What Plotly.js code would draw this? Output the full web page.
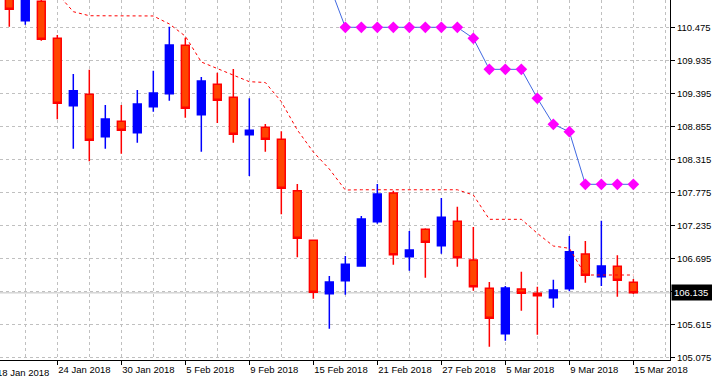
<!DOCTYPE html>
<html>
<head>
<meta charset="utf-8">
<script src="https://cdn.plot.ly/plotly-3.0.1.min.js"></script>
<style>
html,body{margin:0;padding:0;background:#fff;}
#chart{width:712px;height:379px;}
</style>
</head>
<body>
<div id="chart"></div>
<script>
// Trading days shown (18 Jan 2018 is slot 0, just off the left edge)
const dates = ['19 Jan','22 Jan','23 Jan','24 Jan','25 Jan','26 Jan','29 Jan','30 Jan','31 Jan','1 Feb',
  '2 Feb','5 Feb','6 Feb','7 Feb','8 Feb','9 Feb','12 Feb','13 Feb','14 Feb','15 Feb',
  '16 Feb','19 Feb','20 Feb','21 Feb','22 Feb','23 Feb','26 Feb','27 Feb','28 Feb','1 Mar',
  '2 Mar','5 Mar','6 Mar','7 Mar','8 Mar','9 Mar','12 Mar','13 Mar','14 Mar','15 Mar'];

const openP = [111.000,110.583,110.900,110.295,109.194,109.380,108.687,108.939,108.752,109.177,
  109.390,110.181,109.047,109.543,109.331,108.720,108.841,108.645,107.804,106.994,
  106.121,106.334,106.574,107.298,107.767,106.726,107.174,106.906,107.304,106.672,
  106.209,105.467,106.198,106.128,106.056,106.203,106.770,106.399,106.569,106.307];
const highP = [111.100,111.050,110.950,110.349,109.712,109.782,109.205,109.205,109.450,109.766,
  110.485,110.305,109.663,109.733,109.793,109.315,108.894,108.775,107.914,107.000,
  106.411,106.737,107.391,107.914,107.804,107.146,107.190,107.685,107.543,107.211,
  106.312,106.247,106.481,106.236,106.350,107.064,106.983,107.314,106.749,106.361];
const lowP = [110.485,110.517,110.256,108.971,108.491,108.285,108.491,108.409,108.589,109.096,
  109.275,108.997,108.442,108.911,108.589,108.045,108.442,107.419,106.716,106.040,
  105.549,106.105,106.562,107.265,106.595,106.497,106.383,106.775,106.562,106.170,
  105.255,105.353,105.843,105.451,105.892,106.160,106.301,106.247,106.072,106.116];
const closeP = [110.769,110.950,110.279,109.233,109.439,108.628,108.976,108.792,109.221,109.401,
  110.186,109.151,109.597,109.282,108.726,108.792,108.645,107.844,107.027,106.144,
  106.312,106.602,107.342,107.751,106.759,106.835,106.961,107.370,106.709,106.236,
  105.719,106.214,106.128,106.089,106.182,106.808,106.422,106.574,106.340,106.137];

// Red dotted trailing line
const redLine = [null,null,null,111.027,110.730,110.664,110.660,110.660,110.660,110.660,
  110.530,110.330,109.908,109.802,109.695,109.586,109.573,109.259,108.797,108.437,
  108.159,107.816,107.820,107.820,107.820,107.820,107.820,107.820,107.820,107.734,
  107.337,107.337,107.337,107.108,106.901,106.863,106.427,106.427,106.427,106.427];

// Blue line with magenta diamonds
const blueLine = [null,null,null,null,null,null,null,null,null,null,
  null,null,null,null,null,null,null,null,null,null,
  111.170,110.475,110.475,110.475,110.475,110.475,110.475,110.475,110.475,110.295,
  109.788,109.788,109.788,109.315,108.890,108.769,107.909,107.909,107.909,107.909];

const xTickText = ['18 Jan 2018','24 Jan 2018','30 Jan 2018','5 Feb 2018','9 Feb 2018','15 Feb 2018',
  '21 Feb 2018','27 Feb 2018','5 Mar 2018','9 Mar 2018','15 Mar 2018'];
const yTicks = [105.075,105.615,106.155,106.695,107.235,107.775,108.315,108.855,109.395,109.935,110.475];
const yTickText = ['105.075','105.615','','106.695','107.235','107.775','108.315','108.855','109.395','109.935','110.475'];
const lastPrice = 106.135;

const xs = dates.map((d, i) => i + 1);
const xTickVals = xTickText.map((t, i) => i * 4);
const xRange = [0.419, 42.29];
const FONT = 'Liberation Sans, Arial, sans-serif';

const traces = [
  {
    type: 'scatter', mode: 'lines', x: xs, y: redLine,
    line: {color: '#ff0000', width: 1, dash: '3px,3px'},
    hoverinfo: 'skip', connectgaps: false
  },
  {
    type: 'candlestick', x: xs, open: openP, high: highP, low: lowP, close: closeP,
    increasing: {line: {color: '#0000ff', width: 1.5}, fillcolor: '#0000ff'},
    decreasing: {line: {color: '#ff0000', width: 1.5}, fillcolor: '#ff4500'},
    whiskerwidth: 0, hoverinfo: 'skip'
  },
  {
    type: 'scatter', mode: 'lines+markers', x: xs, y: blueLine,
    line: {color: '#4169e1', width: 1},
    marker: {symbol: 'diamond', size: 9, color: '#ff00ff'},
    hoverinfo: 'skip'
  }
];

// label of the tick that lies just left of the visible range (drawn partly cut off)
const offTick = xTickVals[0];
const offTickPaper = (offTick - xRange[0]) / (xRange[1] - xRange[0]);

const layout = {
  width: 712, height: 379,
  margin: {l: 0, r: 42, t: 0, b: 19, pad: 0},
  paper_bgcolor: '#ffffff', plot_bgcolor: '#ffffff',
  showlegend: false,
  font: {family: FONT, size: 9.5, color: '#000000'},
  xaxis: {
    type: 'linear', range: xRange,
    tickmode: 'array', tickvals: xTickVals, ticktext: xTickText,
    ticks: 'outside', ticklen: 4, tickcolor: '#000', tickwidth: 1,
    ticklabelposition: 'outside right', ticklabelstandoff: 1,
    showline: true, linecolor: '#000', linewidth: 1,
    showgrid: true, gridcolor: '#c0c0c0', griddash: '3px,3px', gridwidth: 1,
    minor: {dtick: 2, tick0: 0, showgrid: true, gridcolor: '#c0c0c0', griddash: '3px,3px', gridwidth: 1, ticks: ''},
    zeroline: false, fixedrange: true,
    rangeslider: {visible: false},
    tickfont: {family: FONT, size: 9.5, color: '#000'}
  },
  yaxis: {
    side: 'right', range: [105.038, 110.921],
    tickmode: 'array', tickvals: yTicks, ticktext: yTickText,
    ticks: 'outside', ticklen: 4, tickcolor: '#000', tickwidth: 1,
    showline: true, linecolor: '#000', linewidth: 1,
    showgrid: true, gridcolor: '#c0c0c0', griddash: '3px,3px', gridwidth: 1,
    zeroline: false, fixedrange: true,
    tickfont: {family: FONT, size: 9.5, color: '#000'}
  },
  shapes: [
    {type: 'line', xref: 'paper', x0: 0, x1: 1, yref: 'y', y0: lastPrice, y1: lastPrice,
     line: {color: '#c0c0c0', width: 1}, layer: 'below'}
  ],
  annotations: [
    {xref: 'paper', x: 1, xanchor: 'left', xshift: 1, yref: 'y', y: lastPrice, yanchor: 'middle',
     text: lastPrice.toFixed(3), showarrow: false, bgcolor: '#000000', borderpad: 2,
     width: 37, align: 'left',
     font: {family: FONT, size: 9.5, color: '#ffffff'}},
    {xref: 'paper', x: offTickPaper, xanchor: 'left', xshift: 2, yref: 'paper', y: 0, yanchor: 'top', yshift: -5,
     text: xTickText[0], showarrow: false,
     font: {family: FONT, size: 9.5, color: '#000'}}
  ]
};

Plotly.newPlot('chart', traces, layout, {displayModeBar: false, staticPlot: true});
</script>
</body>
</html>
